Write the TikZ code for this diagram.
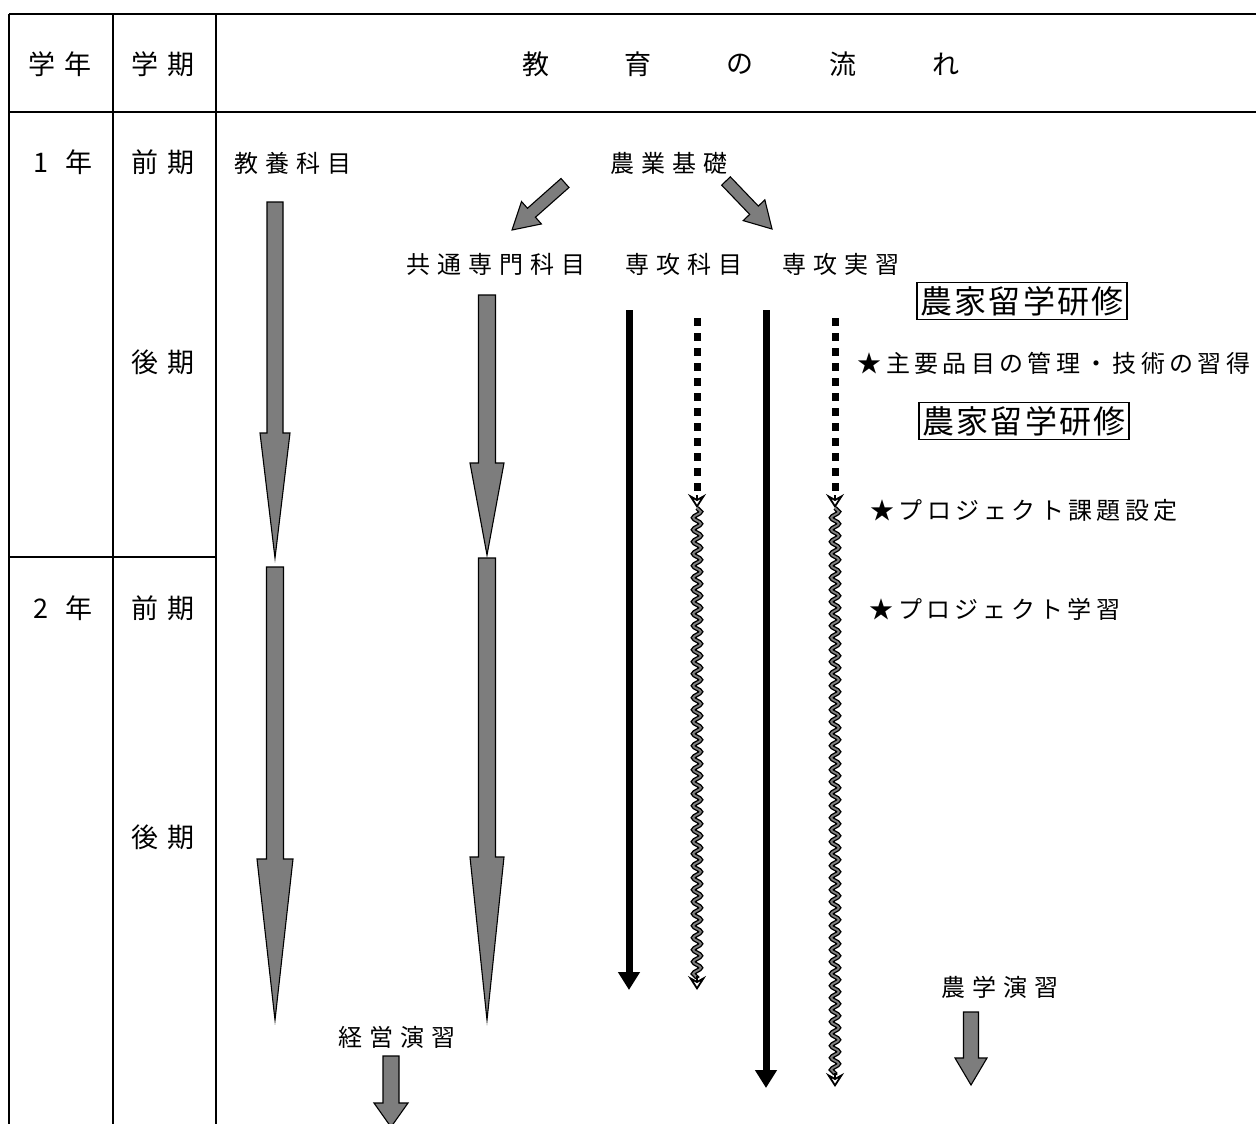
\documentclass[tikz,border=0pt]{standalone}
\usepackage{fontspec}
\usetikzlibrary{calc,arrows.meta,decorations.pathmorphing}
\newfontfamily\jp{Noto Sans CJK JP}[LetterSpace=30]
\newfontfamily\jpstar{Noto Sans CJK JP}[LetterSpace=18]
\newfontfamily\jphdr{Noto Sans CJK JP}[LetterSpace=37]
\newfontfamily\jpbox{Noto Sans CJK JP}[LetterSpace=7.5]
\newcommand\blockarrow[5]{%
  \coordinate (hb) at ($(#2)!#3!(#1)$);
  \filldraw[garrowfill] ($(#1)!#4!90:(#2)$) -- ($(hb)!#4!90:(#2)$) -- ($(hb)!#5!90:(#2)$) -- (#2)
    -- ($(hb)!#5!-90:(#2)$) -- ($(hb)!#4!-90:(#2)$) -- ($(#1)!#4!-90:(#2)$) -- cycle;}
\tikzset{
  lbl/.style={inner sep=0pt, font=\jp\fontsize{24}{28}\selectfont},
  starlbl/.style={inner sep=0pt, font=\jpstar\fontsize{24}{28}\selectfont},
  hdr/.style={inner sep=0pt, font=\jphdr\fontsize{27}{32}\selectfont},
  kbox/.style={draw, line width=1.3pt, inner xsep=3pt, inner ysep=3.5pt, font=\jpbox\fontsize{32}{36}\selectfont},
  grid/.style={line width=1.8pt},
  blk/.style={line width=7pt, -{Triangle[length=18pt,width=21pt]}},
  dots/.style={line width=7pt, dash pattern=on 8pt off 7pt},
  wavy/.style={decorate, decoration={snake, amplitude=3.8pt, segment length=12pt}, line width=1.4pt, double=gray, double distance=1.8pt},
  opentip/.style={line width=1.8pt, -{Stealth[open, length=14pt, width=18pt, inset=5pt]}},
  garrowfill/.style={fill=gray!98!black, draw=black, line width=1.1pt}
}
\begin{document}
\begin{tikzpicture}[x=1pt,y=-1pt]
\useasboundingbox (0,0) rectangle (1256,1124);
% table
\coordinate (tl) at (9,14);   \coordinate (tr) at (1256,14);
\coordinate (hl) at (9,112);  \coordinate (hr) at (1256,112);
\coordinate (ml) at (9,557);  \coordinate (mr) at (216,557);
\coordinate (v1t) at (9,14);   \coordinate (v1b) at (9,1124);
\coordinate (v2t) at (113,14); \coordinate (v2b) at (113,1124);
\coordinate (v3t) at (216,14); \coordinate (v3b) at (216,1124);
\draw[grid] (tl) -- (tr);
\draw[grid] (hl) -- (hr);
\draw[grid] (ml) -- (mr);
\draw[grid] (v1t) -- (v1b);
\draw[grid] (v2t) -- (v2b);
\draw[grid] (v3t) -- (v3b);
% header
\node[hdr] (h1) at (60,64) {学年};
\node[hdr] (h2) at (163,64) {学期};
\node[hdr] (e1) at (536,64) {教};
\node[hdr] (e2) at (638,64) {育};
\node[hdr] (e3) at (740,64) {の};
\node[hdr] (e4) at (843,64) {流};
\node[hdr] (e5) at (946,64) {れ};
% rows
\node[hdr] (y1) at (63,162) {1 年};
\node[hdr] (s1) at (163,162) {前期};
\node[hdr] (s2) at (163,362) {後期};
\node[hdr] (y2) at (63,608) {2 年};
\node[hdr] (s3) at (163,608) {前期};
\node[hdr] (s4) at (163,837) {後期};
% labels
\node[lbl] (kyoyo) at (293,163) {教養科目};
\node[lbl] (nogyo) at (669,163) {農業基礎};
\node[lbl] (kyotsu) at (496,264) {共通専門科目};
\node[lbl] (senko) at (684,264) {専攻科目};
\node[lbl] (jisshu) at (841,264) {専攻実習};
\node[kbox] (ryu1) at (1022,301) {農家留学研修};
\node[starlbl] (star1) at (1054,363) {★主要品目の管理・技術の習得};
\node[kbox] (ryu2) at (1024,421) {農家留学研修};
\node[starlbl] (star2) at (1024,510) {★プロジェクト課題設定};
\node[starlbl] (star3) at (995,609) {★プロジェクト学習};
\node[lbl] (keiei) at (397,1037) {経営演習};
\node[lbl] (nogaku) at (1000,987) {農学演習};
% gray block arrows
\coordinate (a1s) at (275,202); \coordinate (a1e) at (275,558);
\coordinate (a2s) at (275,567); \coordinate (a2e) at (275,1020);
\coordinate (a3s) at (487,295); \coordinate (a3e) at (487,555);
\coordinate (a4s) at (487,558); \coordinate (a4e) at (487,1020);
\coordinate (d1s) at (565,183); \coordinate (d1e) at (512,230);
\coordinate (d2s) at (726,181); \coordinate (d2e) at (772,229);
\coordinate (k1s) at (391,1056); \coordinate (k1e) at (391,1127);
\coordinate (n1s) at (971,1012); \coordinate (n1e) at (971,1085);
\blockarrow{a1s}{a1e}{125pt}{8pt}{15pt}
\blockarrow{a2s}{a2e}{161pt}{8.5pt}{18pt}
\blockarrow{a3s}{a3e}{92pt}{8.5pt}{17pt}
\blockarrow{a4s}{a4e}{163pt}{8.5pt}{17pt}
\blockarrow{d1s}{d1e}{26pt}{6pt}{15pt}
\blockarrow{d2s}{d2e}{26pt}{6pt}{15pt}
\blockarrow{k1s}{k1e}{24pt}{8pt}{17pt}
\blockarrow{n1s}{n1e}{27pt}{7.5pt}{16pt}
% black arrows
\coordinate (b1s) at (629,310); \coordinate (b1e) at (629,990);
\coordinate (b2s) at (766,310); \coordinate (b2e) at (766,1088);
\draw[blk] (b1s) -- (b1e);
\draw[blk] (b2s) -- (b2e);
% dotted + wavy
\coordinate (p1s) at (697,318); \coordinate (p1e) at (697,492);
\coordinate (p1h) at (697,495); \coordinate (p1t) at (697,508);
\coordinate (w1e) at (697,978); \coordinate (w1h) at (697,976); \coordinate (w1t) at (697,990);
\coordinate (p2s) at (835,318); \coordinate (p2e) at (835,492);
\coordinate (p2h) at (835,495); \coordinate (p2t) at (835,508);
\coordinate (w2e) at (835,1075); \coordinate (w2h) at (835,1073); \coordinate (w2t) at (835,1087);
\draw[dots] (p1s) -- (p1e);
\draw[dots] (p2s) -- (p2e);
\draw[opentip] (p1h) -- (p1t);
\draw[opentip] (p2h) -- (p2t);
\draw[wavy] (p1t) -- (w1e);
\draw[wavy] (p2t) -- (w2e);
\draw[opentip] (w1h) -- (w1t);
\draw[opentip] (w2h) -- (w2t);
\end{tikzpicture}
\end{document}
